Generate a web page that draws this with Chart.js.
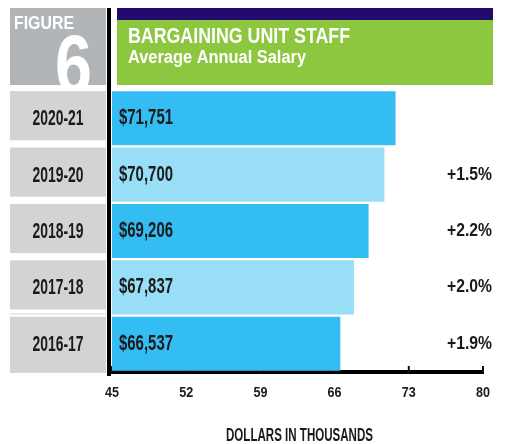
<!DOCTYPE html>
<html>
<head>
<meta charset="utf-8">
<script src="https://cdn.jsdelivr.net/npm/chart.js@4"></script>
<style>
  html, body { margin: 0; padding: 0; background: #fff; }
  #wrap { width: 512px; height: 444px; }
</style>
</head>
<body>
<div id="wrap"><canvas id="chart1" width="512" height="444"></canvas></div>
<script>
const years = ["2020-21", "2019-20", "2018-19", "2017-18", "2016-17"];
const salaries = [71.751, 70.700, 69.206, 67.837, 66.537]; // thousands
const salaryLabels = ["$71,751", "$70,700", "$69,206", "$67,837", "$66,537"];
const changes = ["", "+1.5%", "+2.2%", "+2.0%", "+1.9%"];
const xTicks = [45, 52, 59, 66, 73, 80];

const FONT = '"Liberation Sans", Arial, sans-serif';
const dark = "#33bdf2";
const light = "#99def7";
const ink = "#1a1a1a";

// no condensed font installed, so squeeze the text horizontally.
// the squeeze is worked out once per style from a sample string and its width
function squeeze(ctx, font, sample, width) {
    ctx.font = font;
    return width / ctx.measureText(sample).width;
}
function text(ctx, str, x, y, font, sx, align) {
    ctx.save();
    ctx.font = font;
    ctx.textAlign = align || "left";
    ctx.textBaseline = "alphabetic";
    ctx.translate(x, y);
    ctx.scale(sx, 1);
    ctx.fillText(str, 0, 0);
    ctx.restore();
}

const decor = {
    id: 'decor',
    beforeDatasetsDraw(chart) {
        const ctx = chart.ctx;
        const x = chart.scales.x, y = chart.scales.y;
        ctx.save();
        ctx.strokeStyle = "#111";
        ctx.lineWidth = 2;
        xTicks.forEach(t => {
            const px = x.getPixelForValue(t);
            ctx.beginPath();
            ctx.moveTo(px, y.bottom);
            ctx.lineTo(px, y.bottom - 6);
            ctx.stroke();
        });
        ctx.restore();
    },
    afterDatasetsDraw(chart) {
        const ctx = chart.ctx;
        const x = chart.scales.x, y = chart.scales.y;
        const meta = chart.getDatasetMeta(0);
        ctx.save();

        // header
        ctx.fillStyle = "#b1b5b8";
        ctx.fillRect(10, 8, 96, 77);
        ctx.fillStyle = "#fff";
        let f = "bold 19px " + FONT;
        text(ctx, "FIGURE", 14, 29, f, squeeze(ctx, f, "FIGURE", 60));
        ctx.save();
        ctx.beginPath();
        ctx.rect(10, 8, 96, 77);
        ctx.clip();
        f = "bold 84px " + FONT;
        text(ctx, "6", 55, 93, f, squeeze(ctx, f, "6", 37));
        ctx.restore();

        ctx.fillStyle = "#230a6e";
        ctx.fillRect(117, 8, 376, 12);
        ctx.fillStyle = "#8dc63f";
        ctx.fillRect(117, 20, 376, 65);
        ctx.fillStyle = "#fff";
        f = "bold 22px " + FONT;
        text(ctx, "BARGAINING UNIT STAFF", 128, 43, f, squeeze(ctx, f, "BARGAINING UNIT STAFF", 222));
        f = "bold 18px " + FONT;
        text(ctx, "Average Annual Salary", 128, 63, f, squeeze(ctx, f, "Average Annual Salary", 178));

        const yearFont = "bold 22px " + FONT;
        const yearSx = squeeze(ctx, yearFont, "2020-21", 51);
        const valFont = "bold 22px " + FONT;
        const valSx = squeeze(ctx, valFont, "$71,751", 54);
        const pctFont = "bold 18px " + FONT;
        const pctSx = squeeze(ctx, pctFont, "+1.5%", 45);

        meta.data.forEach((bar, i) => {
            const top = bar.y - bar.height / 2;
            const bottom = bar.y + bar.height / 2;
            const last = i === meta.data.length - 1;
            ctx.fillStyle = "#d1d3d5";
            ctx.fillRect(10, top, 96, (last ? bottom + 2 : bottom - 5) - top);
            if (i === 3) {
                ctx.fillRect(10, bottom - 1, 96, 1);
            }
            ctx.fillStyle = ink;
            text(ctx, years[i], 58, bar.y + 7, yearFont, yearSx, "center");
            text(ctx, salaryLabels[i], x.left + 7, bar.y + 6, valFont, valSx);
            if (changes[i]) {
                text(ctx, changes[i], 492, bar.y + 5, pctFont, pctSx, "right");
            }
        });

        // tick labels and axis title
        const tickFont = "bold 15px " + FONT;
        const tickSx = squeeze(ctx, tickFont, "45", 14);
        xTicks.forEach(t => {
            text(ctx, String(t), x.getPixelForValue(t), 397, tickFont, tickSx, "center");
        });
        const titleFont = "bold 18px " + FONT;
        text(ctx, "DOLLARS IN THOUSANDS", (x.left + x.right) / 2 + 2, 441, titleFont,
            squeeze(ctx, titleFont, "DOLLARS IN THOUSANDS", 147), "center");

        // vertical axis line running up to the header
        ctx.fillStyle = "#000";
        ctx.fillRect(107, 8, 4, y.bottom + 4 - 8);
        ctx.restore();
    }
};

const chart1 = new Chart("chart1", {
    type: "bar",
    data: {
        labels: years,
        datasets: [{
            data: salaries,
            backgroundColor: salaries.map((v, i) => i % 2 ? light : dark),
            borderWidth: 0,
            barPercentage: 1,
            categoryPercentage: 0.96
        }]
    },
    options: {
        indexAxis: 'y',
        responsive: false,
        animation: false,
        layout: {padding: {left: 112, right: 29, top: 90, bottom: 64}},
        plugins: {
            legend: {display: false},
            tooltip: {enabled: false}
        },
        scales: {
            x: {
                min: 45,
                max: 80,
                afterBuildTicks: axis => { axis.ticks = xTicks.map(v => ({value: v})); },
                grid: {display: false},
                border: {display: true, color: "#000", width: 4},
                ticks: {display: false}
            },
            y: {
                display: false
            }
        }
    },
    plugins: [decor]
});
</script>
</body>
</html>
